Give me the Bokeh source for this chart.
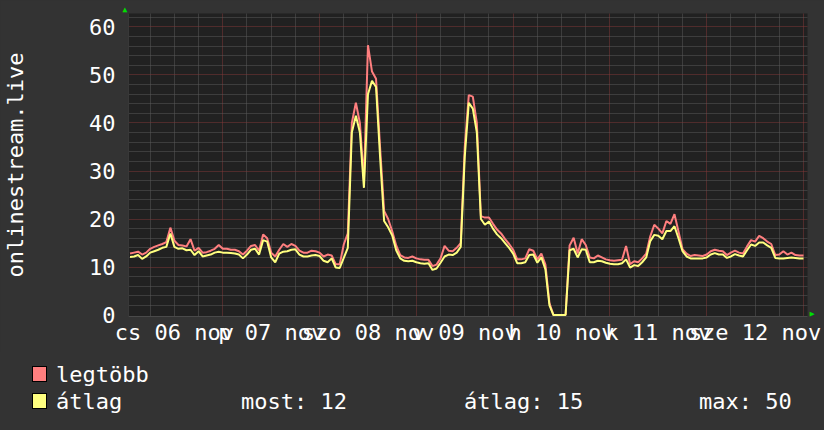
from bokeh.plotting import figure
from bokeh.models import Range1d, FixedTicker, Title, Div, GlobalInlineStyleSheet
from bokeh.layouts import column
from bokeh.embed import file_html
from bokeh.resources import INLINE

# ---------------- data ----------------
hours = list(range(1, 169))  # hours since 06 nov 00:00

avg = [12.1, 12.2, 12.5, 11.7, 12.2, 13.0, 13.3, 13.6, 14.0, 14.2,
       17.0, 14.2, 13.8, 13.9, 13.5, 13.6, 12.5, 13.3, 12.2, 12.4,
       12.6, 13.0, 13.2, 13.0, 13.0, 12.9, 12.8, 12.6, 11.8, 12.6,
       13.6, 13.8, 12.6, 15.6, 15.3, 12.0, 11.0, 12.8, 13.2, 13.3,
       13.6, 13.7, 12.6, 12.2, 12.2, 12.4, 12.5, 12.3, 11.3, 11.0,
       11.8, 9.9, 9.8, 11.9, 14.0, 38.0, 41.5, 38.0, 26.5, 46.0,
       48.8, 47.5, 33.0, 19.6, 18.3, 16.6, 13.5, 11.8, 11.3, 11.2,
       11.3, 11.0, 10.8, 10.7, 10.8, 9.4, 9.7, 10.9, 12.2, 12.6,
       12.5, 13.0, 14.2, 33.0, 44.2, 43.0, 38.0, 20.0, 18.8, 19.5,
       18.0, 16.8, 16.0, 15.0, 14.0, 12.8, 10.8, 10.8, 11.0, 12.5,
       12.6, 10.9, 12.0, 9.5, 2.0, 0.0, 0.0, 0.0, 0.0, 13.5,
       13.8, 12.0, 13.7, 13.6, 11.0, 11.0, 11.3, 11.2, 10.9, 10.7,
       10.6, 10.6, 10.8, 11.6, 9.9, 10.4, 10.2, 11.0, 12.0, 15.4,
       16.7, 16.5, 15.8, 17.5, 17.5, 18.5, 16.0, 13.3, 12.2, 11.8,
       11.8, 11.8, 11.8, 12.0, 12.6, 12.9, 12.6, 12.6, 11.9, 12.2,
       12.7, 12.4, 12.2, 13.5, 14.7, 14.4, 15.1, 15.1, 14.5, 14.0,
       11.9, 11.8, 11.8, 11.9, 12.0, 11.9, 11.8, 11.8]

mx = [12.8, 13.0, 13.2, 12.6, 13.0, 13.8, 14.2, 14.5, 14.8, 15.2,
      18.2, 15.5, 14.6, 14.5, 14.3, 15.8, 13.4, 14.0, 13.0, 13.1,
      13.4, 13.8, 14.6, 13.8, 13.8, 13.6, 13.6, 13.3, 12.6, 13.4,
      14.4, 14.6, 13.4, 16.8, 16.0, 13.0, 12.2, 13.6, 14.8, 14.2,
      14.8, 14.4, 13.4, 13.0, 13.0, 13.4, 13.3, 13.0, 12.2, 12.6,
      12.4, 10.6, 10.6, 14.7, 17.0, 40.0, 44.2, 40.0, 28.0, 56.2,
      50.7, 49.2, 35.0, 21.7, 20.0, 17.5, 14.5, 12.5, 12.0, 11.9,
      12.2, 11.8, 11.6, 11.5, 11.5, 10.2, 10.5, 11.8, 14.4, 13.4,
      13.3, 14.0, 15.0, 35.0, 45.8, 45.5, 40.0, 20.6, 20.3, 20.3,
      19.0, 17.8, 17.0, 15.8, 14.8, 13.6, 11.6, 11.6, 11.8, 13.7,
      13.4, 11.6, 12.8, 10.5, 2.5, 0.0, 0.0, 0.0, 0.0, 14.5,
      16.1, 12.8, 15.8, 14.6, 12.0, 11.8, 12.4, 12.0, 11.6, 11.4,
      11.3, 11.4, 11.5, 14.4, 10.6, 11.2, 11.0, 11.8, 12.8, 16.4,
      18.8, 18.0, 17.0, 19.6, 19.0, 21.0, 17.4, 13.7, 12.8, 12.3,
      12.5, 12.4, 12.3, 12.6, 13.3, 13.6, 13.4, 13.3, 12.5, 13.0,
      13.4, 13.0, 12.8, 14.3, 15.6, 15.3, 16.5, 16.0, 15.3, 14.8,
      12.5, 12.6, 13.3, 12.6, 13.0, 12.5, 12.4, 12.4]

day_label_hours = [12, 36, 60, 84, 108, 132, 156]
day_labels = ["cs 06 nov", "p 07 nov", "szo 08 nov", "v 09 nov",
              "h 10 nov", "k 11 nov", "sze 12 nov"]
y_ticks = [0, 10, 20, 30, 40, 50, 60]
series_names = ["legtöbb", "átlag"]
series_colors = ["#ff7f7f", "#ffff7f"]
stats = ["most: 12", "átlag: 15", "max: 50"]
y_title = "onlinestream.live"

# ---------------- style ----------------
FONT = "DejaVu Sans Mono"
FS = "22px"
BACK = "#333333"
CANVAS = "#212121"
MINOR = "#5a5a5a"
MAJOR = "#803838"
ARROW = "#00e000"
X0, X1 = 0.62, 168.99
Y0, Y1 = -0.3, 62.8

p = figure(width=824, height=352, x_range=Range1d(X0, X1), y_range=Range1d(Y0, Y1),
           output_backend="svg", toolbar_location=None,
           min_border_left=123, min_border_right=17, min_border_top=13, min_border_bottom=36)
p.background_fill_color = CANVAS
p.border_fill_color = BACK
p.outline_line_color = None

# grids
p.xgrid.ticker = FixedTicker(ticks=list(range(24, 169, 24)),
                             minor_ticks=[h for h in range(6, 169, 6) if h % 24])
p.ygrid.ticker = FixedTicker(ticks=list(range(10, 61, 10)),
                             minor_ticks=[v for v in range(2, 63, 2) if v % 10])
for g in (p.xgrid, p.ygrid):
    g.grid_line_color = MAJOR
    g.grid_line_dash = "1 1"
    g.grid_line_width = 1
    g.minor_grid_line_color = MINOR
    g.minor_grid_line_dash = "1 1"
    g.minor_grid_line_width = 1

# axes
p.yaxis.ticker = FixedTicker(ticks=y_ticks)
p.xaxis.ticker = FixedTicker(ticks=day_label_hours)
p.xaxis.major_label_overrides = {h: t for h, t in zip(day_label_hours, day_labels)}
for ax in (p.xaxis, p.yaxis):
    ax.major_label_text_font = FONT
    ax.major_label_text_font_size = FS
    ax.major_label_text_color = "#ffffff"
    ax.major_tick_line_color = None
    ax.minor_tick_line_color = None
    ax.major_tick_out = 0
    ax.major_tick_in = 0
    ax.minor_tick_out = 0
    ax.minor_tick_in = 0
p.xaxis.axis_line_color = "#4a4a4a"
p.yaxis.axis_line_color = "#383838"
p.yaxis.major_label_standoff = 13
p.xaxis.major_label_standoff = 3
p.yaxis.axis_label = y_title
p.yaxis.axis_label_text_font = FONT
p.yaxis.axis_label_text_font_size = FS
p.yaxis.axis_label_text_font_style = "normal"
p.yaxis.axis_label_text_color = "#ffffff"
p.yaxis.axis_label_standoff = 58

# series
p.line(hours, mx, line_color=series_colors[0], line_width=2)
p.line(hours, avg, line_color=series_colors[1], line_width=2)

# axis arrows (tiny titles in the side panels)
p.title = Title(text="▲", align="left", offset=-6, standoff=0, text_font=FONT,
                text_font_size="8px", text_color=ARROW, text_font_style="normal")
p.add_layout(Title(text="▲", align="right", offset=0, standoff=0, text_font=FONT,
                   text_font_size="8px", text_color=ARROW, text_font_style="normal"), "right")

# ---------------- legend (below the chart) ----------------
def legend_svg():
    parts = ['<svg xmlns="http://www.w3.org/2000/svg" width="824" height="78" '
             'style="display:block;font-family:\'DejaVu Sans Mono\';font-size:22px;">']
    rows = [(14, 22), (41, 49)]  # (box top, text middle) per series
    for (btop, tmid), name, col in zip(rows, series_names, series_colors):
        parts.append(f'<rect x="32.5" y="{btop + 0.5}" width="14" height="15" '
                     f'fill="{col}" stroke="#000000" stroke-width="1"/>')
        parts.append(f'<text x="56" y="{tmid}" fill="#ffffff" '
                     f'dominant-baseline="central">{name}</text>')
    for s, xx in zip(stats, [241, 464, 699]):
        parts.append(f'<text x="{xx}" y="49" fill="#ffffff" '
                     f'dominant-baseline="central">{s}</text>')
    parts.append('</svg>')
    return "".join(parts)

legend = Div(text=legend_svg(), width=824, height=78,
             styles={"background-color": BACK, "margin": "0", "padding": "0"})

layout = column(p, legend, spacing=0)
layout.stylesheets = [GlobalInlineStyleSheet(css="body { background-color: #333333; }")]

open("out.html", "w").write(file_html(layout, INLINE))
